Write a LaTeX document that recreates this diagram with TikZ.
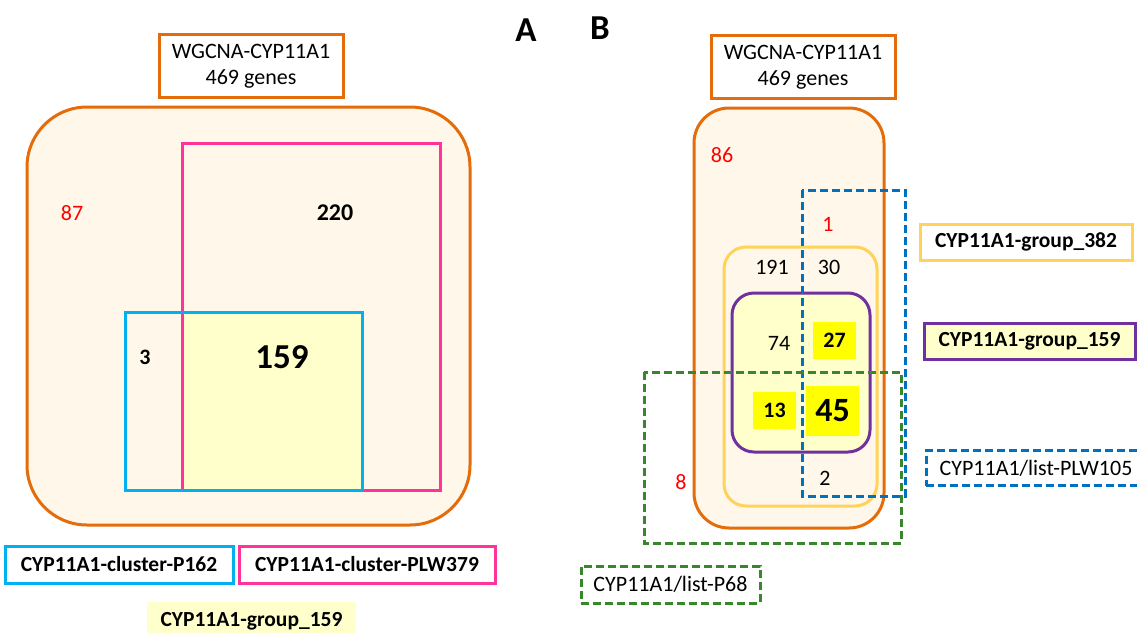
\documentclass[tikz,border=0pt]{standalone}
\usepackage{fontspec}
\setmainfont{Carlito}
\definecolor{ModOrange}{RGB}{228,108,10}
\definecolor{ModCream}{RGB}{255,248,234}
\definecolor{ClPink}{RGB}{255,51,153}
\definecolor{ClCyan}{RGB}{0,176,240}
\definecolor{GrpYellow}{RGB}{255,255,204}
\definecolor{HiYellow}{RGB}{255,255,0}
\definecolor{GrpGold}{RGB}{255,210,90}
\definecolor{GrpPurple}{RGB}{112,48,160}
\definecolor{ListBlue}{RGB}{0,112,192}
\definecolor{ListGreen}{RGB}{56,135,45}
\usetikzlibrary{positioning}

\begin{document}
\begin{tikzpicture}[
        x=1pt, y=-1pt,
        panel/.style={font=\bfseries\fontsize{35}{40}\selectfont},
        title/.style={draw=ModOrange, line width=3pt, fill=white, align=center, minimum width=184pt, minimum height=63pt, inner sep=0pt, font=\fontsize{22}{26}\selectfont},
        setlabel/.style={draw, line width=3pt, fill=white, minimum height=37pt, inner sep=0pt, font=\bfseries\fontsize{21.5}{25}\selectfont},
        listlabel/.style={draw, line width=3pt, dash pattern=on 8pt off 4pt, fill=white, minimum height=35pt, inner sep=0pt, font=\fontsize{22}{26}\selectfont},
        num/.style={font=\fontsize{22}{26}\selectfont},
        boldnum/.style={font=\bfseries\fontsize{22}{26}\selectfont},
        bignum/.style={font=\bfseries\fontsize{35}{40}\selectfont},
        hi/.style={fill=HiYellow, inner sep=0pt, minimum width=43pt, minimum height=37pt, font=\bfseries\fontsize{22}{26}\selectfont},
        set/.style={line width=3pt},
        list/.style={line width=3pt, dash pattern=on 8pt off 4pt}
    ]
        \useasboundingbox (0,0) rectangle (1137,632);

        % panel A
        \node [panel] (la) at (526,30) {A};
        \node [title] (modA) at (251,66) {WGCNA-CYP11A1\\469 genes};
        \draw [set, draw=ModOrange, fill=ModCream, rounded corners=60pt] (27,107) rectangle (470,525);
        \fill [GrpYellow] (182,312) rectangle (362,490);
        \draw [set, ClPink] (182,143) rectangle (440,490);
        \draw [set, ClCyan] (125,312) rectangle (362,490);

        \node [num, red] (nA87) at (72,213) {87};
        \node [boldnum, font=\bfseries\fontsize{24}{28}\selectfont] (nA220) at (335,213) {220};
        \node [boldnum] (nA3) at (145,357) {3};
        \node [bignum] (nA159) at (282,357) {159};

        \node [setlabel, draw=ClCyan, minimum width=228pt] (p162) at (119,564.5) {CYP11A1-cluster-P162};
        \node [setlabel, draw=ClPink, minimum width=256pt, right=3pt of p162] (plw379) {CYP11A1-cluster-PLW379};
        \node [setlabel, draw=none, fill=GrpYellow, minimum width=209pt, minimum height=38pt] (g159A) at (251.5,621) {CYP11A1-group\_159};

        % panel B
        \node [panel] (lb) at (600,28) {B};
        \node [title] (modB) at (803,67) {WGCNA-CYP11A1\\469 genes};
        \draw [set, draw=ModOrange, fill=ModCream, rounded corners=35pt] (694,108) rectangle (884,528);
        \draw [set, GrpGold, rounded corners=22pt] (724,247) rectangle (877,506);
        \draw [set, draw=GrpPurple, fill=GrpYellow, rounded corners=22pt] (732,293) rectangle (870,452);

        \node [hi] (nB27) at (834.5,340.5) {27};
        \node [hi] (nB13) at (774.5,410.5) {13};
        \node [hi, minimum width=53pt, minimum height=50pt, font=\bfseries\fontsize{34}{40}\selectfont] (nB45) at (832.5,411) {45};

        \draw [list, ListBlue] (802,190) rectangle (905,496);
        \draw [list, ListGreen] (644,372) rectangle (901,543);

        \node [num, red] (nB86) at (722,155) {86};
        \node [num, red] (nB1) at (828,224) {1};
        \node [num] (nB191) at (772,267) {191};
        \node [num] (nB30) at (829,267) {30};
        \node [num] (nB74) at (779,343) {74};
        \node [num, red] (nB8) at (681,482) {8};
        \node [num] (nB2) at (825,478) {2};

        \node [setlabel, draw=GrpGold, minimum width=212pt, minimum height=36pt] (g382) at (1026,242) {CYP11A1-group\_382};
        \node [setlabel, draw=GrpPurple, fill=GrpYellow, minimum width=211pt, minimum height=36pt] (g159B) at (1029.5,341) {CYP11A1-group\_159};
        \node [listlabel, draw=ListBlue, minimum width=220pt] (plw105) at (1036,468) {CYP11A1/list-PLW105};
        \node [listlabel, draw=ListGreen, minimum width=179pt, minimum height=37pt] (p68) at (670.5,584.5) {CYP11A1/list-P68};
    \end{tikzpicture}
\end{document}
